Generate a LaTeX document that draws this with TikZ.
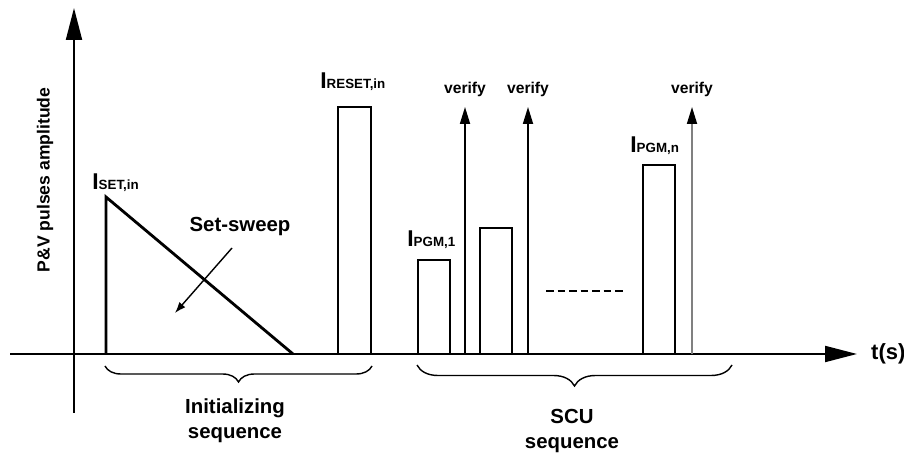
\documentclass[tikz,border=0pt]{standalone}
\usepackage{fontspec}
\setmainfont{Liberation Sans}
\usetikzlibrary{arrows.meta,decorations.pathreplacing}

\newcommand{\Ilabel}[1]{{\fontsize{13}{15}\selectfont I}{\fontsize{7.6}{9}\selectfont #1}}

\begin{document}
\begin{tikzpicture}[
    pulse/.style={line width=1.6pt},
    axisline/.style={line width=1.1pt,-{Triangle[length=0.64cm,width=0.32cm]}},
    verifyarrow/.style={line width=1pt,-{Triangle[length=0.34cm,width=0.2cm,color=black]}},
    seqbrace/.style={decorate,decoration={brace,mirror,amplitude=0.32cm},line width=0.8pt},
    txt/.style={font=\fontsize{11.6}{14.2}\selectfont\bfseries},
    smalltxt/.style={font=\fontsize{8.9}{10}\selectfont\bfseries},
    curlbl/.style={anchor=base west,inner sep=0pt,font=\bfseries}
]
    \useasboundingbox (0,0) rectangle (18.08,9.1);

    % Axes
    \coordinate (ybot) at (1.48,0.84);
    \coordinate (ytop) at (1.48,8.94);
    \coordinate (xleft) at (0.2,2.02);
    \coordinate (xright) at (17.14,2.02);
    \draw[axisline] (ybot) -- (ytop);
    \draw[axisline] (xleft) -- (xright);
    \node[anchor=west,font=\fontsize{12.5}{14}\selectfont\bfseries] (tlabel) at (17.3,2.02) {t(s)};
    \node[rotate=90,font=\fontsize{10}{12}\selectfont\bfseries] (ylabel) at (0.9,5.5) {P\&V pulses amplitude};

    % Set-sweep pulse
    \coordinate (setbase) at (2.12,2.02);
    \coordinate (settop) at (2.12,5.16);
    \coordinate (setend) at (5.86,2.02);
    \draw[pulse,line join=miter] (setbase) -- (settop) -- (setend);
    \node[curlbl] (iset) at (1.84,5.3) {\Ilabel{SET,in}};
    \node[txt] (sweep) at (4.8,4.56) {Set-sweep};
    \coordinate (sweepfrom) at (4.64,4.14);
    \coordinate (sweepto) at (3.5,2.84);
    \draw[line width=0.8pt,-{Latex[length=0.22cm,width=0.16cm]}] (sweepfrom) -- (sweepto);

    % Reset pulse
    \draw[pulse] (6.76,2.02) -- (6.76,6.96) -- (7.42,6.96) -- (7.42,2.02);
    \node[curlbl] (ireset) at (6.4,7.32) {\Ilabel{RESET,in}};

    % Program pulses
    \draw[pulse] (8.36,2.02) -- (8.36,3.9) -- (9.0,3.9) -- (9.0,2.02);
    \node[curlbl] (ipgma) at (8.14,4.16) {\Ilabel{PGM,1}};
    \draw[pulse] (9.6,2.02) -- (9.6,4.54) -- (10.24,4.54) -- (10.24,2.02);
    \draw[pulse] (12.86,2.02) -- (12.86,5.8) -- (13.5,5.8) -- (13.5,2.02);
    \node[curlbl] (ipgmn) at (12.6,6.04) {\Ilabel{PGM,n}};
    \coordinate (dotsa) at (10.92,3.28);
    \coordinate (dotsb) at (12.46,3.28);
    \draw[line width=1.4pt,dash pattern=on 0.15cm off 0.08cm] (dotsa) -- (dotsb);

    % Verify arrows
    \foreach \vx/\vname/\vcol in {9.3/va/black,10.56/vb/black,13.84/vc/black!50} {
        \coordinate (\vname bot) at (\vx,2.02);
        \coordinate (\vname top) at (\vx,6.96);
        \draw[verifyarrow,\vcol] (\vname bot) -- (\vname top);
        \node[smalltxt] (\vname lbl) at (\vx,7.32) {verify};
    }

    % Sequence braces
    \coordinate (initl) at (2.1,1.78);
    \coordinate (initr) at (7.44,1.78);
    \draw[seqbrace] (initl) -- (initr);
    \node[txt,align=center] (initlbl) at (4.7,0.68) {Initializing\\sequence};
    \coordinate (scul) at (8.34,1.8);
    \coordinate (scur) at (14.64,1.8);
    \draw[seqbrace,decoration={amplitude=0.42cm}] (scul) -- (scur);
    \node[txt,align=center] (sculbl) at (11.44,0.48) {SCU\\sequence};
\end{tikzpicture}
\end{document}
